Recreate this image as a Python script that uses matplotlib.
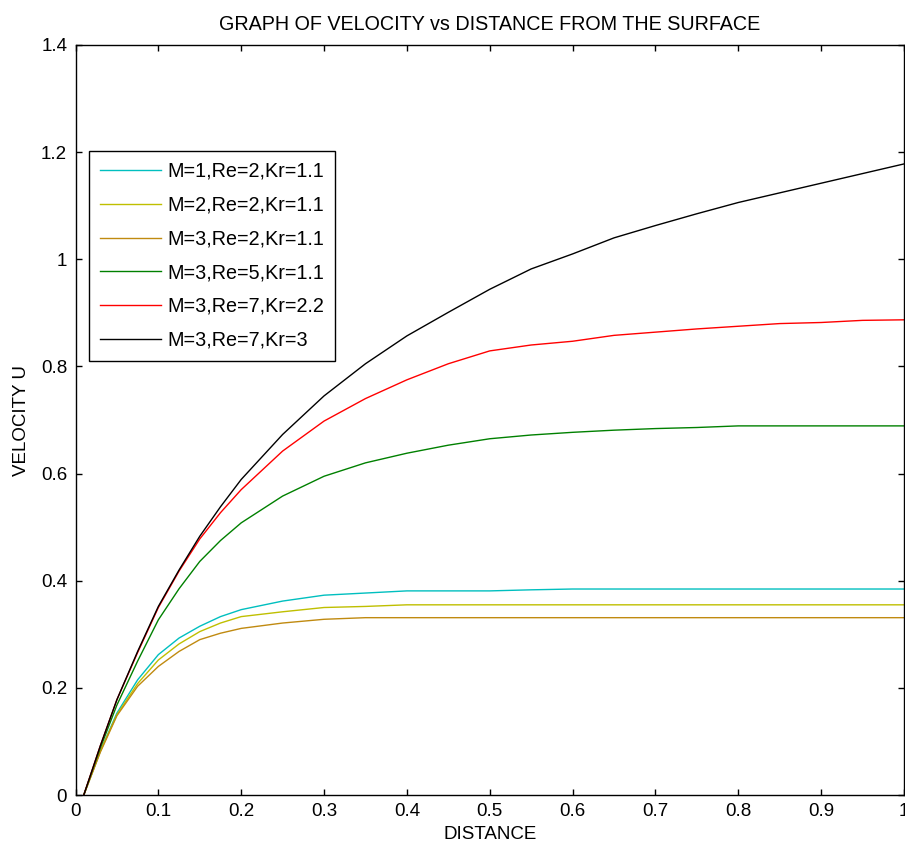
import matplotlib
matplotlib.use("Agg")
import matplotlib.pyplot as plt
from matplotlib.ticker import FuncFormatter, MultipleLocator

plt.rcParams.update({"font.family": ["Liberation Sans", "DejaVu Sans"], "font.size": 13.5})

distance = [0.01, 0.03, 0.05, 0.075, 0.1, 0.125, 0.15, 0.175, 0.2, 0.25, 0.3, 0.35, 0.4,
            0.45, 0.5, 0.55, 0.6, 0.65, 0.7, 0.75, 0.8, 0.85, 0.9, 0.95, 1.0]

u_m1_re2_kr11 = [0, 0.082, 0.153, 0.215, 0.262, 0.293, 0.315, 0.333, 0.346, 0.362, 0.373, 0.377, 0.381,
                 0.381, 0.381, 0.383, 0.3845, 0.3845, 0.3845, 0.3845, 0.3845, 0.3845, 0.3845, 0.3845, 0.3845]
u_m2_re2_kr11 = [0, 0.082, 0.150, 0.208, 0.252, 0.282, 0.305, 0.321, 0.333, 0.342, 0.350, 0.352, 0.355,
                 0.355, 0.355, 0.355, 0.355, 0.355, 0.355, 0.355, 0.355, 0.355, 0.355, 0.355, 0.355]
u_m3_re2_kr11 = [0, 0.080, 0.148, 0.203, 0.240, 0.268, 0.290, 0.302, 0.311, 0.321, 0.328, 0.331, 0.331,
                 0.331, 0.331, 0.331, 0.331, 0.331, 0.331, 0.331, 0.331, 0.331, 0.331, 0.331, 0.331]
u_m3_re5_kr11 = [0, 0.088, 0.168, 0.250, 0.327, 0.385, 0.436, 0.475, 0.508, 0.558, 0.595, 0.620, 0.638,
                 0.653, 0.665, 0.672, 0.677, 0.681, 0.684, 0.686, 0.689, 0.689, 0.689, 0.689, 0.689]
u_m3_re7_kr22 = [0, 0.092, 0.178, 0.266, 0.350, 0.418, 0.478, 0.527, 0.570, 0.642, 0.698, 0.740, 0.775,
                 0.805, 0.829, 0.840, 0.847, 0.858, 0.864, 0.870, 0.875, 0.880, 0.882, 0.886, 0.887]
u_m3_re7_kr3 = [0, 0.092, 0.178, 0.268, 0.352, 0.420, 0.483, 0.538, 0.589, 0.673, 0.745, 0.805, 0.857,
                0.901, 0.944, 0.982, 1.010, 1.040, 1.063, 1.085, 1.106, 1.124, 1.142, 1.160, 1.178]

series = [
    ("M=1,Re=2,Kr=1.1", u_m1_re2_kr11, "#00bfbf"),
    ("M=2,Re=2,Kr=1.1", u_m2_re2_kr11, "#bfbf00"),
    ("M=3,Re=2,Kr=1.1", u_m3_re2_kr11, "#c08a10"),
    ("M=3,Re=5,Kr=1.1", u_m3_re5_kr11, "#008000"),
    ("M=3,Re=7,Kr=2.2", u_m3_re7_kr22, "#ff0000"),
    ("M=3,Re=7,Kr=3", u_m3_re7_kr3, "#000000"),
]

fig = plt.figure(figsize=(9.05, 8.59), dpi=100)
ax = fig.add_axes([75.5 / 905, 1 - 795 / 859, (904 - 75.5) / 905, 750 / 859])

for label, vals, col in series:
    ax.plot(distance, vals, color=col, linewidth=1.0, label=label)

ax.set_xlim(0, 1)
ax.set_ylim(0, 1.4)
ax.xaxis.set_major_locator(MultipleLocator(0.1))
ax.yaxis.set_major_locator(MultipleLocator(0.2))
fmt = FuncFormatter(lambda v, _: f"{round(v, 2):g}")
ax.xaxis.set_major_formatter(fmt)
ax.yaxis.set_major_formatter(fmt)
ax.tick_params(direction="in", length=4.5, width=1, top=True, right=True, pad=6)
for s in ax.spines.values():
    s.set_linewidth(1.0)
    s.set_color("black")

ax.set_xlabel("DISTANCE", labelpad=4)
ax.set_ylabel("VELOCITY U", labelpad=8)
ax.set_title("GRAPH OF VELOCITY vs DISTANCE FROM THE SURFACE", pad=11, fontsize=14.2)

leg = ax.legend(loc="upper left", bbox_to_anchor=(0.0163, 0.8587), borderaxespad=0,
                fancybox=False, edgecolor="black", framealpha=1, handlelength=3.1,
                handletextpad=0.3, labelspacing=0.75, borderpad=0.55, prop={"size": 14.2})
leg.get_frame().set_linewidth(1.0)

fig.savefig("out.png", dpi=100)
